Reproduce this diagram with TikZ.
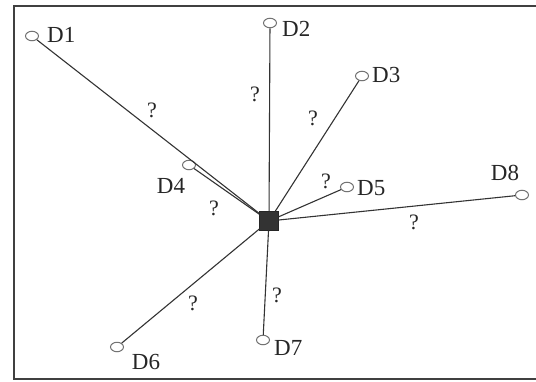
\documentclass[tikz,border=0pt]{standalone}
\usepackage{fontspec}
\setmainfont{Liberation Serif}
\usetikzlibrary{shapes.geometric}
\begin{document}
\begin{tikzpicture}[x=1pt,y=-1pt,
  dev/.style={draw=black!55,fill=white,ellipse,minimum width=13pt,minimum height=9.5pt,inner sep=0pt,line width=1pt},
  hub/.style={draw=black!85,fill=black!80,minimum size=19pt,inner sep=0pt},
  lab/.style={font=\fontsize{23}{23}\selectfont,text=black!85,inner sep=0pt},
  qm/.style={font=\fontsize{22}{22}\selectfont,text=black!85,inner sep=0pt},
  link/.style={draw=black!80,line width=1.1pt},
  frame/.style={draw=black!75,line width=1.8pt}]
\useasboundingbox (0,0) rectangle (536,381);
\draw[frame] (536,6) -- (14,6) -- (14,379) -- (536,379);
\node[hub] (h) at (269,221) {};
\node[dev] (d1) at (32,36) {};
\node[dev] (d2) at (270,23) {};
\node[dev] (d3) at (362,76) {};
\node[dev] (d4) at (189,165) {};
\node[dev] (d5) at (347,187) {};
\node[dev] (d6) at (117,347) {};
\node[dev] (d7) at (263,340) {};
\node[dev] (d8) at (522,195) {};
\foreach \n in {1,...,8}{\draw[link] (h) -- (d\n);}
\node[lab,anchor=west] (l1) at (47,35) {D1};
\node[lab,anchor=west] (l2) at (282,29) {D2};
\node[lab,anchor=west] (l3) at (372,75) {D3};
\node[lab] (l4) at (171,186) {D4};
\node[lab,anchor=west] (l5) at (357,188) {D5};
\node[lab] (l6) at (146,362) {D6};
\node[lab,anchor=west] (l7) at (274,348) {D7};
\node[lab] (l8) at (505,173) {D8};
\node[qm] (q1) at (152,110) {?};
\node[qm] (q2) at (255,94) {?};
\node[qm] (q3) at (313,118) {?};
\node[qm] (q4) at (214,208) {?};
\node[qm] (q5) at (326,181) {?};
\node[qm] (q6) at (193,303) {?};
\node[qm] (q7) at (277,295) {?};
\node[qm] (q8) at (414,222) {?};
\end{tikzpicture}
\end{document}
